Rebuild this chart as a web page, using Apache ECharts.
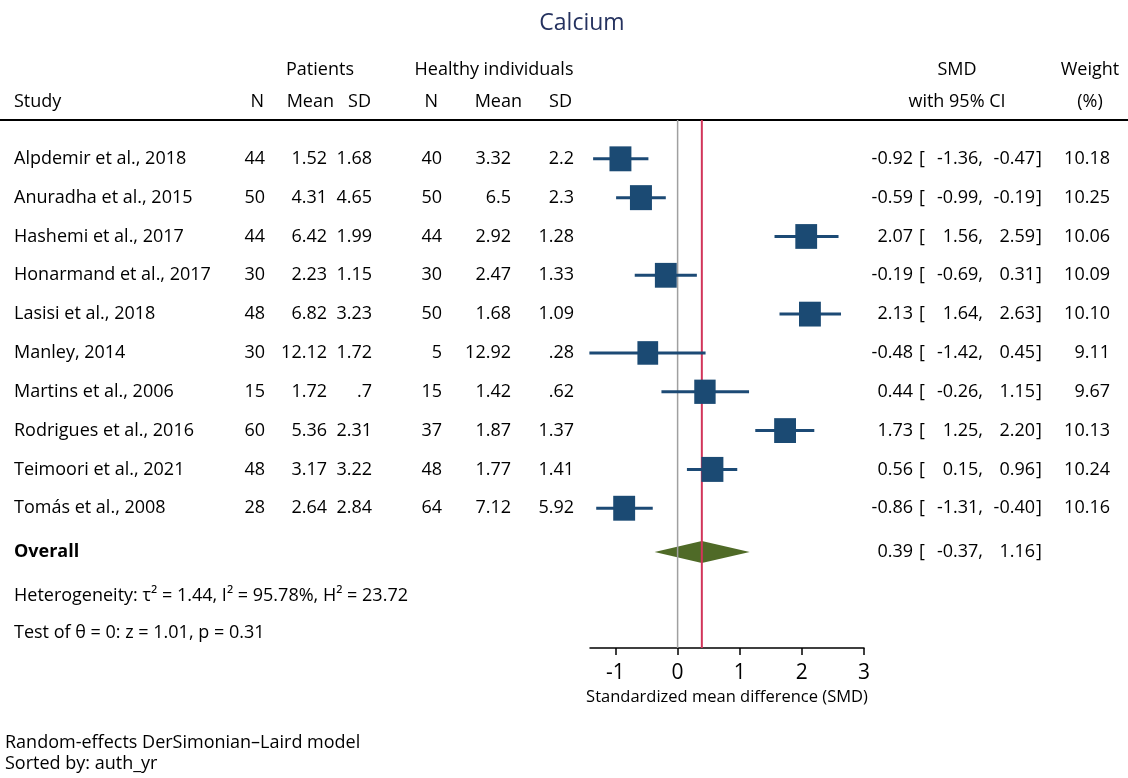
<!DOCTYPE html>
<html>
<head>
<meta charset="utf-8">
<script src="https://cdn.jsdelivr.net/npm/echarts@6/dist/echarts.min.js"></script>
<style>
  html, body { margin: 0; padding: 0; background: #fff; }
  #main { width: 1128px; height: 778px; }
</style>
</head>
<body>
<div id="main"></div>
<script>
// 数据
var studies = ['Alpdemir et al., 2018', 'Anuradha et al., 2015', 'Hashemi et al., 2017', 'Honarmand et al., 2017',
  'Lasisi et al., 2018', 'Manley, 2014', 'Martins et al., 2006', 'Rodrigues et al., 2016', 'Teimoori et al., 2021', 'Tomás et al., 2008'];
var n1 = [44, 50, 44, 30, 48, 30, 15, 60, 48, 28];
var mean1 = ['1.52', '4.31', '6.42', '2.23', '6.82', '12.12', '1.72', '5.36', '3.17', '2.64'];
var sd1 = ['1.68', '4.65', '1.99', '1.15', '3.23', '1.72', '.7', '2.31', '3.22', '2.84'];
var n2 = [40, 50, 44, 30, 50, 5, 15, 37, 48, 64];
var mean2 = ['3.32', '6.5', '2.92', '2.47', '1.68', '12.92', '1.42', '1.87', '1.77', '7.12'];
var sd2 = ['2.2', '2.3', '1.28', '1.33', '1.09', '.28', '.62', '1.37', '1.41', '5.92'];
var smd = [-0.92, -0.59, 2.07, -0.19, 2.13, -0.48, 0.44, 1.73, 0.56, -0.86];
var ciLo = [-1.36, -0.99, 1.56, -0.69, 1.64, -1.42, -0.26, 1.25, 0.15, -1.31];
var ciHi = [-0.47, -0.19, 2.59, 0.31, 2.63, 0.45, 1.15, 2.20, 0.96, -0.40];
var weight = [10.18, 10.25, 10.06, 10.09, 10.10, 9.11, 9.67, 10.13, 10.24, 10.16];
var overall = [0.39, -0.37, 1.16];
var xTicks = [-1, 0, 1, 2, 3];

var FONT = '"Open Sans", sans-serif';
var OVERALL_ROW = 11.13;

var myChart = echarts.init(document.getElementById('main'));

var rows = studies.map(function (s, i) { return i + 1; });

option = {
  animation: false,
  grid: { left: 590, right: 264, top: 120, bottom: 130 },
  xAxis: {
    type: 'value',
    min: -1.41,
    max: 3,
    splitLine: { show: false },
    axisLine: { onZero: false, lineStyle: { color: '#000', width: 1.5 } },
    axisTick: { customValues: xTicks, length: 7, lineStyle: { color: '#000', width: 1.5 } },
    axisLabel: { customValues: xTicks, color: '#000', fontSize: 21, fontFamily: FONT, margin: 15 },
    name: 'Standardized mean difference (SMD)',
    nameLocation: 'middle',
    nameGap: 34,
    nameTextStyle: { color: '#000', fontSize: 16.5, fontFamily: FONT }
  },
  yAxis: { type: 'value', min: 0, max: 13.6, inverse: true, show: false },
  series: [
    {
      // 合并效应菱形
      type: 'custom',
      z: 2,
      data: [[OVERALL_ROW, overall[1], overall[0], overall[2]]],
      encode: { x: [1, 2, 3], y: 0 },
      renderItem: function (params, api) {
        var r = api.value(0);
        var a = api.coord([api.value(1), r]);
        var c = api.coord([api.value(2), r]);
        var b = api.coord([api.value(3), r]);
        return {
          type: 'polygon',
          shape: { points: [a, [c[0], c[1] - 11], b, [c[0], c[1] + 11]] },
          style: { fill: '#4f6a27' }
        };
      }
    },
    {
      type: 'line', z: 3, symbol: 'none', silent: true,
      data: [[0, 0], [0, 13.6]],
      lineStyle: { color: '#a0a0a0', width: 1.5 }
    },
    {
      type: 'line', z: 3, symbol: 'none', silent: true,
      data: [[overall[0], 0], [overall[0], 13.6]],
      lineStyle: { color: '#d2355a', width: 2 }
    },
    {
      // 置信区间
      type: 'custom',
      z: 4,
      data: rows.map(function (r, i) { return [r, ciLo[i], ciHi[i]]; }),
      encode: { x: [1, 2], y: 0 },
      renderItem: function (params, api) {
        var r = api.value(0);
        var p1 = api.coord([api.value(1), r]);
        var p2 = api.coord([api.value(2), r]);
        return {
          type: 'line',
          shape: { x1: p1[0], y1: p1[1], x2: p2[0], y2: p2[1] },
          style: { stroke: '#1c4a75', lineWidth: 3 }
        };
      }
    },
    {
      type: 'scatter',
      z: 5,
      symbol: 'rect',
      data: rows.map(function (r, i) { return [smd[i], r, weight[i]]; }),
      symbolSize: function (v) {
        var s = Math.sqrt(v[2] / 10.25);
        return [22 * s, 25 * s];
      },
      itemStyle: { color: '#1b4a73', opacity: 1 }
    }
  ]
};
myChart.setOption(option);

// 表格文字
function txt(text, x, y, align, opt) {
  opt = opt || {};
  return {
    type: 'text',
    silent: true,
    style: {
      text: text, x: x, y: y,
      align: align || 'left', verticalAlign: 'middle',
      fill: opt.color || '#000',
      fontSize: opt.size || 18,
      fontWeight: opt.bold ? 'bold' : 'normal',
      fontFamily: FONT
    }
  };
}
function rowY(r) {
  return myChart.convertToPixel({ yAxisIndex: 0 }, r);
}

var g = [];
g.push({ type: 'line', silent: true, shape: { x1: 0, y1: 120, x2: 1128, y2: 120 }, style: { stroke: '#000', lineWidth: 2 } });
g.push(txt('Calcium', 582, 23, 'center', { size: 23, color: '#25325f' }));
g.push(txt('Patients', 320, 70, 'center'));
g.push(txt('Healthy individuals', 494, 70, 'center'));
g.push(txt('SMD', 957, 70, 'center'));
g.push(txt('Weight', 1090, 70, 'center'));
g.push(txt('Study', 14, 102));
g.push(txt('N', 264, 102, 'right'));
g.push(txt('Mean', 334, 102, 'right'));
g.push(txt('SD', 371, 102, 'right'));
g.push(txt('N', 438, 102, 'right'));
g.push(txt('Mean', 522, 102, 'right'));
g.push(txt('SD', 572, 102, 'right'));
g.push(txt('with 95% CI', 957, 102, 'center'));
g.push(txt('(%)', 1090, 102, 'center'));

function ciText(y, est, lo, hi) {
  g.push(txt(est.toFixed(2), 913, y, 'right'));
  g.push(txt('[', 919, y, 'left'));
  g.push(txt(lo.toFixed(2) + ',', 983, y, 'right'));
  g.push(txt(hi.toFixed(2), 1035, y, 'right'));
  g.push(txt(']', 1036, y, 'left'));
}

rows.forEach(function (r, i) {
  var y = rowY(r);
  g.push(txt(studies[i], 14, y));
  g.push(txt(String(n1[i]), 265, y, 'right'));
  g.push(txt(mean1[i], 327, y, 'right'));
  g.push(txt(sd1[i], 372, y, 'right'));
  g.push(txt(String(n2[i]), 442, y, 'right'));
  g.push(txt(mean2[i], 511, y, 'right'));
  g.push(txt(sd2[i], 574, y, 'right'));
  ciText(y, smd[i], ciLo[i], ciHi[i]);
  g.push(txt(weight[i].toFixed(2), 1110, y, 'right'));
});

var yo = rowY(OVERALL_ROW);
g.push(txt('Overall', 14, yo, 'left', { bold: true }));
ciText(yo, overall[0], overall[1], overall[2]);
g.push(txt('Heterogeneity: τ² = 1.44, I² = 95.78%, H² = 23.72', 14, 596));
g.push(txt('Test of θ = 0: z = 1.01, p = 0.31', 14, 633));
g.push(txt('Random-effects DerSimonian–Laird model', 5, 743));
g.push(txt('Sorted by: auth_yr', 5, 764));

myChart.setOption({ graphic: g });

window.addEventListener('resize', function () {
  myChart.resize();
});
</script>
</body>
</html>
